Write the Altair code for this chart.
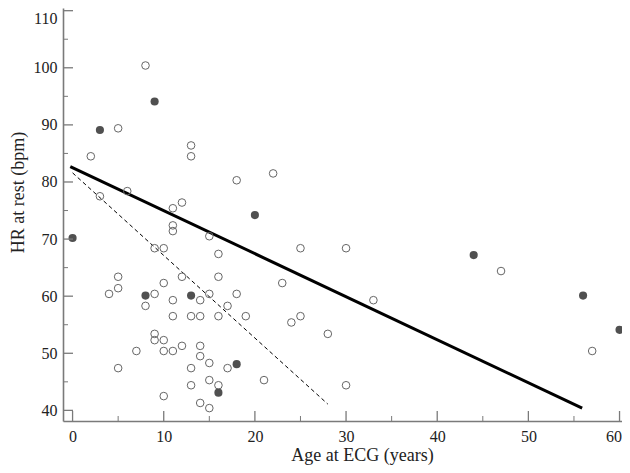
import altair as alt
import pandas as pd

# Open circles (age in years, HR in bpm)
open_age = [8, 5, 13, 13, 2, 18, 6, 3, 12, 11, 22, 11, 11, 15, 9, 10, 16, 5, 12, 16,
            10, 5, 4, 9, 15, 18, 11, 14, 8, 17, 11, 13, 14, 16, 19, 9, 9, 10, 7, 10,
            11, 12, 14, 14, 15, 5, 13, 17, 15, 13, 16, 10, 14, 15, 25, 30, 23, 33, 25, 24,
            28, 21, 30, 47, 57]
open_hr = [100.4, 89.4, 86.4, 84.5, 84.5, 80.3, 78.4, 77.5, 76.4, 75.4, 81.5, 72.4, 71.4, 70.5, 68.4, 68.4, 67.4, 63.4, 63.4, 63.4,
           62.3, 61.4, 60.4, 60.4, 60.4, 60.4, 59.3, 59.3, 58.3, 58.3, 56.5, 56.5, 56.5, 56.5, 56.5, 53.4, 52.3, 52.3, 50.4, 50.4,
           50.4, 51.3, 51.3, 49.5, 48.3, 47.4, 47.4, 47.4, 45.3, 44.4, 44.4, 42.5, 41.3, 40.4, 68.4, 68.4, 62.3, 59.3, 56.5, 55.4,
           53.4, 45.3, 44.4, 64.4, 50.4]

# Filled circles
filled_age = [9, 3, 20, 0, 8, 13, 18, 16, 44, 56, 60]
filled_hr = [94.1, 89.1, 74.2, 70.2, 60.1, 60.1, 48.1, 43.1, 67.2, 60.1, 54.1]

# Regression lines (end points)
solid_age = [-0.25, 55.9]
solid_hr = [82.7, 40.4]
dashed_age = [0, 28]
dashed_hr = [81.6, 41.1]

# Axis ticks
x_major = [0, 10, 20, 30, 40, 50, 60]
x_minor = [5, 15, 25, 35, 45, 55]
y_major = [40, 50, 60, 70, 80, 90, 100, 110]
y_minor = [45, 55, 65, 75, 85, 95, 105]

W, H = 559, 413
FONT = "Liberation Serif, Times New Roman, serif"
AX = "#7a7a7a"
TXT = "#222222"

xs = alt.Scale(domain=[-1.05, 60.27], nice=False, zero=False)
ys = alt.Scale(domain=[38.14, 110.47], nice=False, zero=False)

xaxis = alt.Axis(values=x_major, ticks=False, tickSize=0, grid=False,
                 domainColor=AX, domainWidth=1.6,
                 labelFont=FONT, labelFontSize=16, labelColor=TXT,
                 labelPadding=15, labelBaseline="middle",
                 labelFlush=3, labelFlushOffset=2,
                 title="Age at ECG (years)", titleFont=FONT, titleFontSize=18,
                 titleFontWeight="normal", titleColor=TXT,
                 titleX=299, titleY=39, titleBaseline="alphabetic", titleAlign="center")
yaxis = alt.Axis(values=y_major, ticks=False, tickSize=0, grid=False,
                 domainColor=AX, domainWidth=1.6,
                 labelFont=FONT, labelFontSize=16, labelColor=TXT,
                 labelPadding=6,
                 labelFlush=5, labelFlushOffset=0,
                 title="HR at rest (bpm)", titleFont=FONT, titleFontSize=18,
                 titleFontWeight="normal", titleColor=TXT,
                 titleX=-40, titleY=184, titleAngle=270, titleBaseline="alphabetic",
                 titleAlign="center")


def X():
    return alt.X("x:Q", scale=xs, axis=xaxis)


def Y():
    return alt.Y("y:Q", scale=ys, axis=yaxis)


df_open = pd.DataFrame({"x": open_age, "y": open_hr})
df_filled = pd.DataFrame({"x": filled_age, "y": filled_hr})
df_solid = pd.DataFrame({"x": solid_age, "y": solid_hr})
df_dashed = pd.DataFrame({"x": dashed_age, "y": dashed_hr})

solid = alt.Chart(df_solid).mark_line(color="black", strokeWidth=3).encode(x=X(), y=Y())
dashed = alt.Chart(df_dashed).mark_line(color="black", strokeWidth=1,
                                        strokeDash=[4, 3]).encode(x=X(), y=Y())

opens = alt.Chart(df_open).mark_point(shape="circle", filled=False, stroke="#666666",
                                      strokeWidth=1, size=58, opacity=1).encode(x=X(), y=Y())
fills = alt.Chart(df_filled).mark_circle(color="#505050", size=66, opacity=1).encode(x=X(), y=Y())

xt_major = alt.Chart(pd.DataFrame({"x": x_major})).mark_rule(color=AX, strokeWidth=1.3).encode(
    x=X(), y=alt.value(H), y2=alt.value(H - 10))
xt_minor = alt.Chart(pd.DataFrame({"x": x_minor})).mark_rule(color=AX, strokeWidth=1).encode(
    x=X(), y=alt.value(H), y2=alt.value(H - 5))
yt_major = alt.Chart(pd.DataFrame({"y": y_major})).mark_rule(color=AX, strokeWidth=1.3).encode(
    y=Y(), x=alt.value(0), x2=alt.value(10))
yt_minor = alt.Chart(pd.DataFrame({"y": y_minor})).mark_rule(color=AX, strokeWidth=1).encode(
    y=Y(), x=alt.value(0), x2=alt.value(5))

chart = alt.layer(solid, dashed, opens, fills, xt_major, xt_minor, yt_major, yt_minor).properties(
    width=W, height=H,
    autosize=alt.AutoSizeParams(type="none"),
    padding={"left": 55, "top": 0, "right": 0, "bottom": 44},
    background="white",
).configure_view(stroke=None)

chart.save("out.html", embed_options={"renderer": "svg", "actions": False})
